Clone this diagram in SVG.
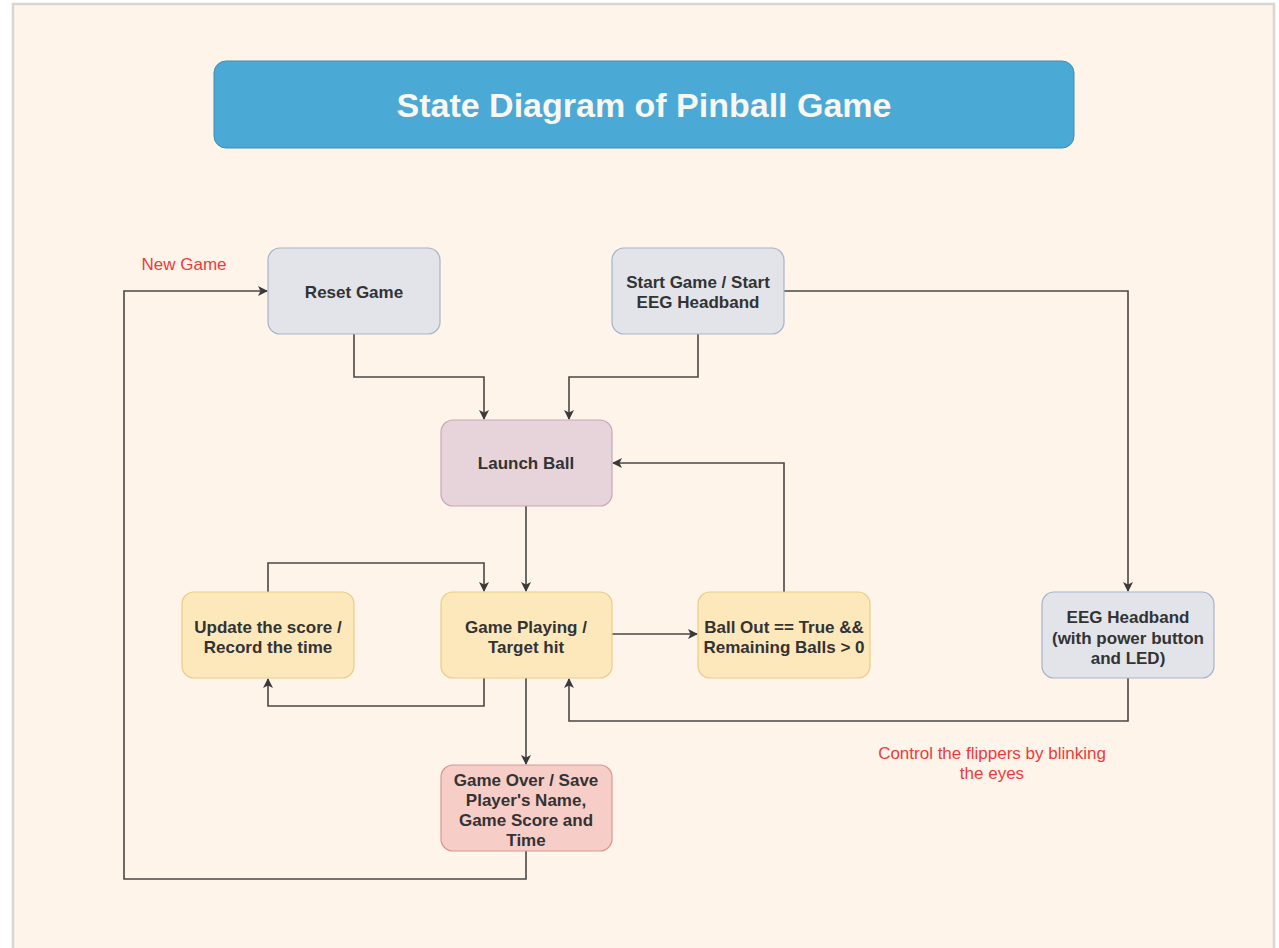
<svg xmlns="http://www.w3.org/2000/svg" width="1279" height="948" viewBox="0 0 1279 948">
<defs>
<marker id="ah" viewBox="0 0 10 10" refX="9" refY="5" markerWidth="10" markerHeight="10" markerUnits="userSpaceOnUse" orient="auto">
<path d="M0,0 L10,5 L0,10 L2.5,5 Z" fill="#3a3a3a"/>
</marker>
</defs>
<style>
.node rect{stroke-width:1.2}
.gray rect{fill:#E2E4EA;stroke:#A7B3C9}
.pink rect{fill:#E7D3DA;stroke:#C8A8B6}
.yel rect{fill:#FDE8BC;stroke:#E8CD86}
.red rect{fill:#F7CDC8;stroke:#D99590}
.node text{font-family:"Liberation Sans",Arial,sans-serif;font-weight:bold;font-size:17px;fill:#333;text-anchor:middle}
.conn path{fill:none;stroke:#4a4744;stroke-width:1.6;marker-end:url(#ah)}
.lbl{font-family:"Liberation Sans",Arial,sans-serif;font-size:17px;fill:#F03A3A;text-anchor:middle}
</style>
<rect x="0" y="0" width="1279" height="948" fill="#ffffff"/>
<rect x="13" y="4" width="1261" height="960" fill="#FEF4EA" stroke="#D8D6D3" stroke-width="2.5"/>
<g id="title">
<rect x="214" y="61" width="860" height="87" rx="12" fill="#4BA9D6" stroke="#3F8DB5" stroke-width="1"/>
<text x="644" y="117" font-family="Liberation Sans,Arial,sans-serif" font-weight="bold" font-size="34" fill="#FAF6F0" text-anchor="middle">State Diagram of Pinball Game</text>
</g>
<g id="connectors" class="conn">
<path d="M354,334 V377 H484 V419"/>
<path d="M698,334 V377 H569 V419"/>
<path d="M784,291 H1128 V591"/>
<path d="M526,506 V591"/>
<path d="M268,592 V563 H484 V591"/>
<path d="M484,678 V706 H268 V679"/>
<path d="M612,634 H697"/>
<path d="M784,592 V463 H613"/>
<path d="M1128,678 V721 H569 V679"/>
<path d="M526,678 V764"/>
<path d="M526,851 V879 H124 V291 H267"/>
</g>
<g id="reset" class="node gray">
<rect x="268" y="248" width="172" height="86" rx="12"/>
<text x="354" y="298">Reset Game</text>
</g>
<g id="start" class="node gray">
<rect x="612" y="248" width="172" height="86" rx="12"/>
<text x="698" y="288">Start Game / Start</text>
<text x="698" y="308">EEG Headband</text>
</g>
<g id="launch" class="node pink">
<rect x="441" y="420" width="171" height="86" rx="12"/>
<text x="526" y="469">Launch Ball</text>
</g>
<g id="update" class="node yel">
<rect x="182" y="592" width="172" height="86" rx="12"/>
<text x="268" y="633">Update the score /</text>
<text x="268" y="653">Record the time</text>
</g>
<g id="playing" class="node yel">
<rect x="441" y="592" width="171" height="86" rx="12"/>
<text x="526" y="633">Game Playing /</text>
<text x="526" y="653">Target hit</text>
</g>
<g id="ballout" class="node yel">
<rect x="698" y="592" width="172" height="86" rx="12"/>
<text x="784" y="633">Ball Out == True &amp;&amp;</text>
<text x="784" y="653">Remaining Balls &gt; 0</text>
</g>
<g id="eeg" class="node gray">
<rect x="1042" y="592" width="172" height="86" rx="12"/>
<text x="1128" y="623">EEG Headband</text>
<text x="1128" y="644">(with power button</text>
<text x="1128" y="664">and LED)</text>
</g>
<g id="gameover" class="node red">
<rect x="441" y="765" width="171" height="86" rx="12"/>
<text x="526" y="786">Game Over / Save</text>
<text x="526" y="806">Player's Name,</text>
<text x="526" y="826">Game Score and</text>
<text x="526" y="846">Time</text>
</g>
<g id="labels">
<text class="lbl" x="184" y="270">New Game</text>
<text class="lbl" x="992" y="759">Control the flippers by blinking</text>
<text class="lbl" x="992" y="779">the eyes</text>
</g>
</svg>
